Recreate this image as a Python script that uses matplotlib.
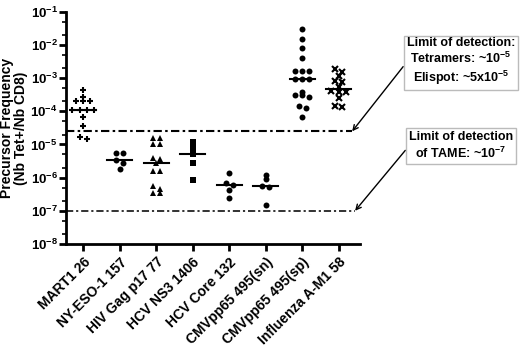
import numpy as np
import matplotlib
matplotlib.use("Agg")
import matplotlib.pyplot as plt
from matplotlib.ticker import LogLocator, FixedLocator

plt.rcParams['font.family'] = ['Liberation Sans', 'DejaVu Sans']
plt.rcParams['font.weight'] = 'bold'
plt.rcParams['mathtext.fontset'] = 'custom'
plt.rcParams['mathtext.rm'] = 'Liberation Sans:bold'
plt.rcParams['mathtext.bf'] = 'Liberation Sans:bold'
plt.rcParams['mathtext.it'] = 'Liberation Sans:bold'

# epitopes and precursor frequencies
epitopes = ['MART1 26', 'NY-ESO-1 157', 'HIV Gag p17 77', 'HCV NS3 1406',
            'HCV Core 132', 'CMVpp65 495(sn)', 'CMVpp65 495(sp)', 'Influenza A-M1 58']
markers = ['+', 'o', '^', 's', 'o', 'o', 'o', 'x']

mart1 = [4.4e-4, 2.7e-4, 2.1e-4, 2.1e-4, 2.1e-4, 1.1e-4, 1.1e-4, 1.1e-4, 1.1e-4,
         6.8e-5, 3.6e-5, 1.7e-5, 1.5e-5]
nyeso = [5.7e-6, 5.7e-6, 3.4e-6, 2.8e-6, 1.8e-6]
hiv = [1.6e-5, 1.6e-5, 1.05e-5, 1.05e-5, 3.9e-6, 3.6e-6, 2.8e-6, 1.6e-6, 1.6e-6,
       5.6e-7, 4.6e-7, 3.4e-7, 3.4e-7]
hcv_ns3 = [1.2e-5, 8.0e-6, 5.1e-6, 2.7e-6, 8.5e-7]
hcv_core = [1.36e-6, 6.8e-7, 6.0e-7, 4.3e-7, 2.4e-7]
cmv_sn = [1.2e-6, 9.1e-7, 5.6e-7, 5.1e-7, 1.5e-7]
cmv_sp = [3.0e-2, 1.5e-2, 8.0e-3, 4.0e-3, 1.6e-3, 1.6e-3, 1.6e-3, 9.3e-4, 9.3e-4,
          9.3e-4, 3.9e-4, 3.1e-4, 3.1e-4, 2.7e-4, 1.4e-4, 1.25e-4, 6.7e-5]
flu = [1.87e-3, 1.58e-3, 1.17e-3, 8.5e-4, 7.9e-4, 5.6e-4, 4.1e-4, 3.9e-4, 3.9e-4,
       2.5e-4, 1.46e-4, 1.33e-4]
all_data = [mart1, nyeso, hiv, hcv_ns3, hcv_core, cmv_sn, cmv_sp, flu]

lod_tetramer = 2.5e-5
lod_tame = 1e-7


def swarm_offsets(vals, tol=0.09, step=0.2):
    # spread points that sit at (almost) the same height
    lv = np.log10(vals)
    order = np.argsort(-lv)
    offs = np.zeros(len(vals))
    groups = []
    for i in order:
        if groups and abs(lv[groups[-1][0]] - lv[i]) < tol:
            groups[-1].append(i)
        else:
            groups.append([i])
    for g in groups:
        n = len(g)
        for k, i in enumerate(g):
            offs[i] = (k - (n - 1) / 2) * step
    return offs


fig = plt.figure(figsize=(5.2, 3.49), dpi=100)
ax = fig.add_axes([0.127, 0.301, 0.565, 0.665])

for i, vals in enumerate(all_data):
    vals = np.array(vals)
    x = i + swarm_offsets(vals)
    m = markers[i]
    if m in ('+', 'x'):
        ax.plot(x, vals, ls='none', marker=m, ms=5, mew=1.5, color='black')
    else:
        ax.plot(x, vals, ls='none', marker=m, ms=4.3, color='black', mew=0)
    med = np.median(vals)
    ax.plot([i - 0.34, i + 0.34], [med, med], color='black', lw=1.5)

dashdot = (0, (4, 1.6, 1.2, 1.6))
ax.hlines(lod_tetramer, -0.47, 7.37, colors='black', linestyles=[dashdot], lw=1.5)
ax.hlines(lod_tame, -0.47, 7.45, colors='#222222', linestyles=[dashdot], lw=1.3)

ax.set_yscale('log')
ax.set_ylim(1e-8, 1e-1)
ax.set_xlim(-0.47, 7.58)
ax.yaxis.set_major_locator(FixedLocator([10.0 ** k for k in range(-8, 0)]))
ax.set_yticklabels([r'$\mathbf{10^{%d}}$' % k for k in range(-8, 0)], fontsize=9.5)
ax.yaxis.set_minor_locator(LogLocator(base=10, subs=(2, 5)))
ax.yaxis.set_minor_formatter(plt.NullFormatter())

ax.set_xticks(range(len(epitopes)))
ax.set_xticklabels(epitopes, rotation=45, ha='right', rotation_mode='anchor',
                   fontsize=10, fontweight='bold')

for s in ['top', 'right']:
    ax.spines[s].set_visible(False)
for s in ['left', 'bottom']:
    ax.spines[s].set_linewidth(2)
ax.tick_params(axis='both', which='major', length=5, width=2, direction='out')
ax.tick_params(axis='y', which='minor', length=3, width=1.2)
ax.tick_params(axis='y', pad=1)
ax.tick_params(axis='x', pad=3)

ax.set_ylabel('Precursor Frequency\n(Nb Tet+/Nb CD8)', fontsize=10, fontweight='bold',
              linespacing=1.05)
ax.yaxis.set_label_coords(-0.128, 0.5)

box = dict(boxstyle='square,pad=0.25', fc='white', ec='#bbbbbb', lw=1)
ax.annotate('Limit of detection:\nTetramers: ~10$^{-5}$\nElispot: ~5x10$^{-5}$',
            xy=(7.37, lod_tetramer), xycoords='data',
            xytext=(461 / 520, 1 - 62 / 349), textcoords='figure fraction',
            ha='center', va='center', fontsize=9, fontweight='bold',
            linespacing=1.15, bbox=box, annotation_clip=False,
            arrowprops=dict(arrowstyle='->', color='black', lw=1,
                            relpos=(0, 0.5), shrinkA=0, shrinkB=0))
ax.annotate('Limit of detection\nof TAME: ~10$^{-7}$',
            xy=(7.45, lod_tame), xycoords='data',
            xytext=(461 / 520, 1 - 146 / 349), textcoords='figure fraction',
            ha='center', va='center', fontsize=9, fontweight='bold',
            linespacing=1.15, bbox=box, annotation_clip=False,
            arrowprops=dict(arrowstyle='->', color='black', lw=1,
                            relpos=(0, 0.5), shrinkA=0, shrinkB=0))

fig.savefig('out.png', dpi=100)
